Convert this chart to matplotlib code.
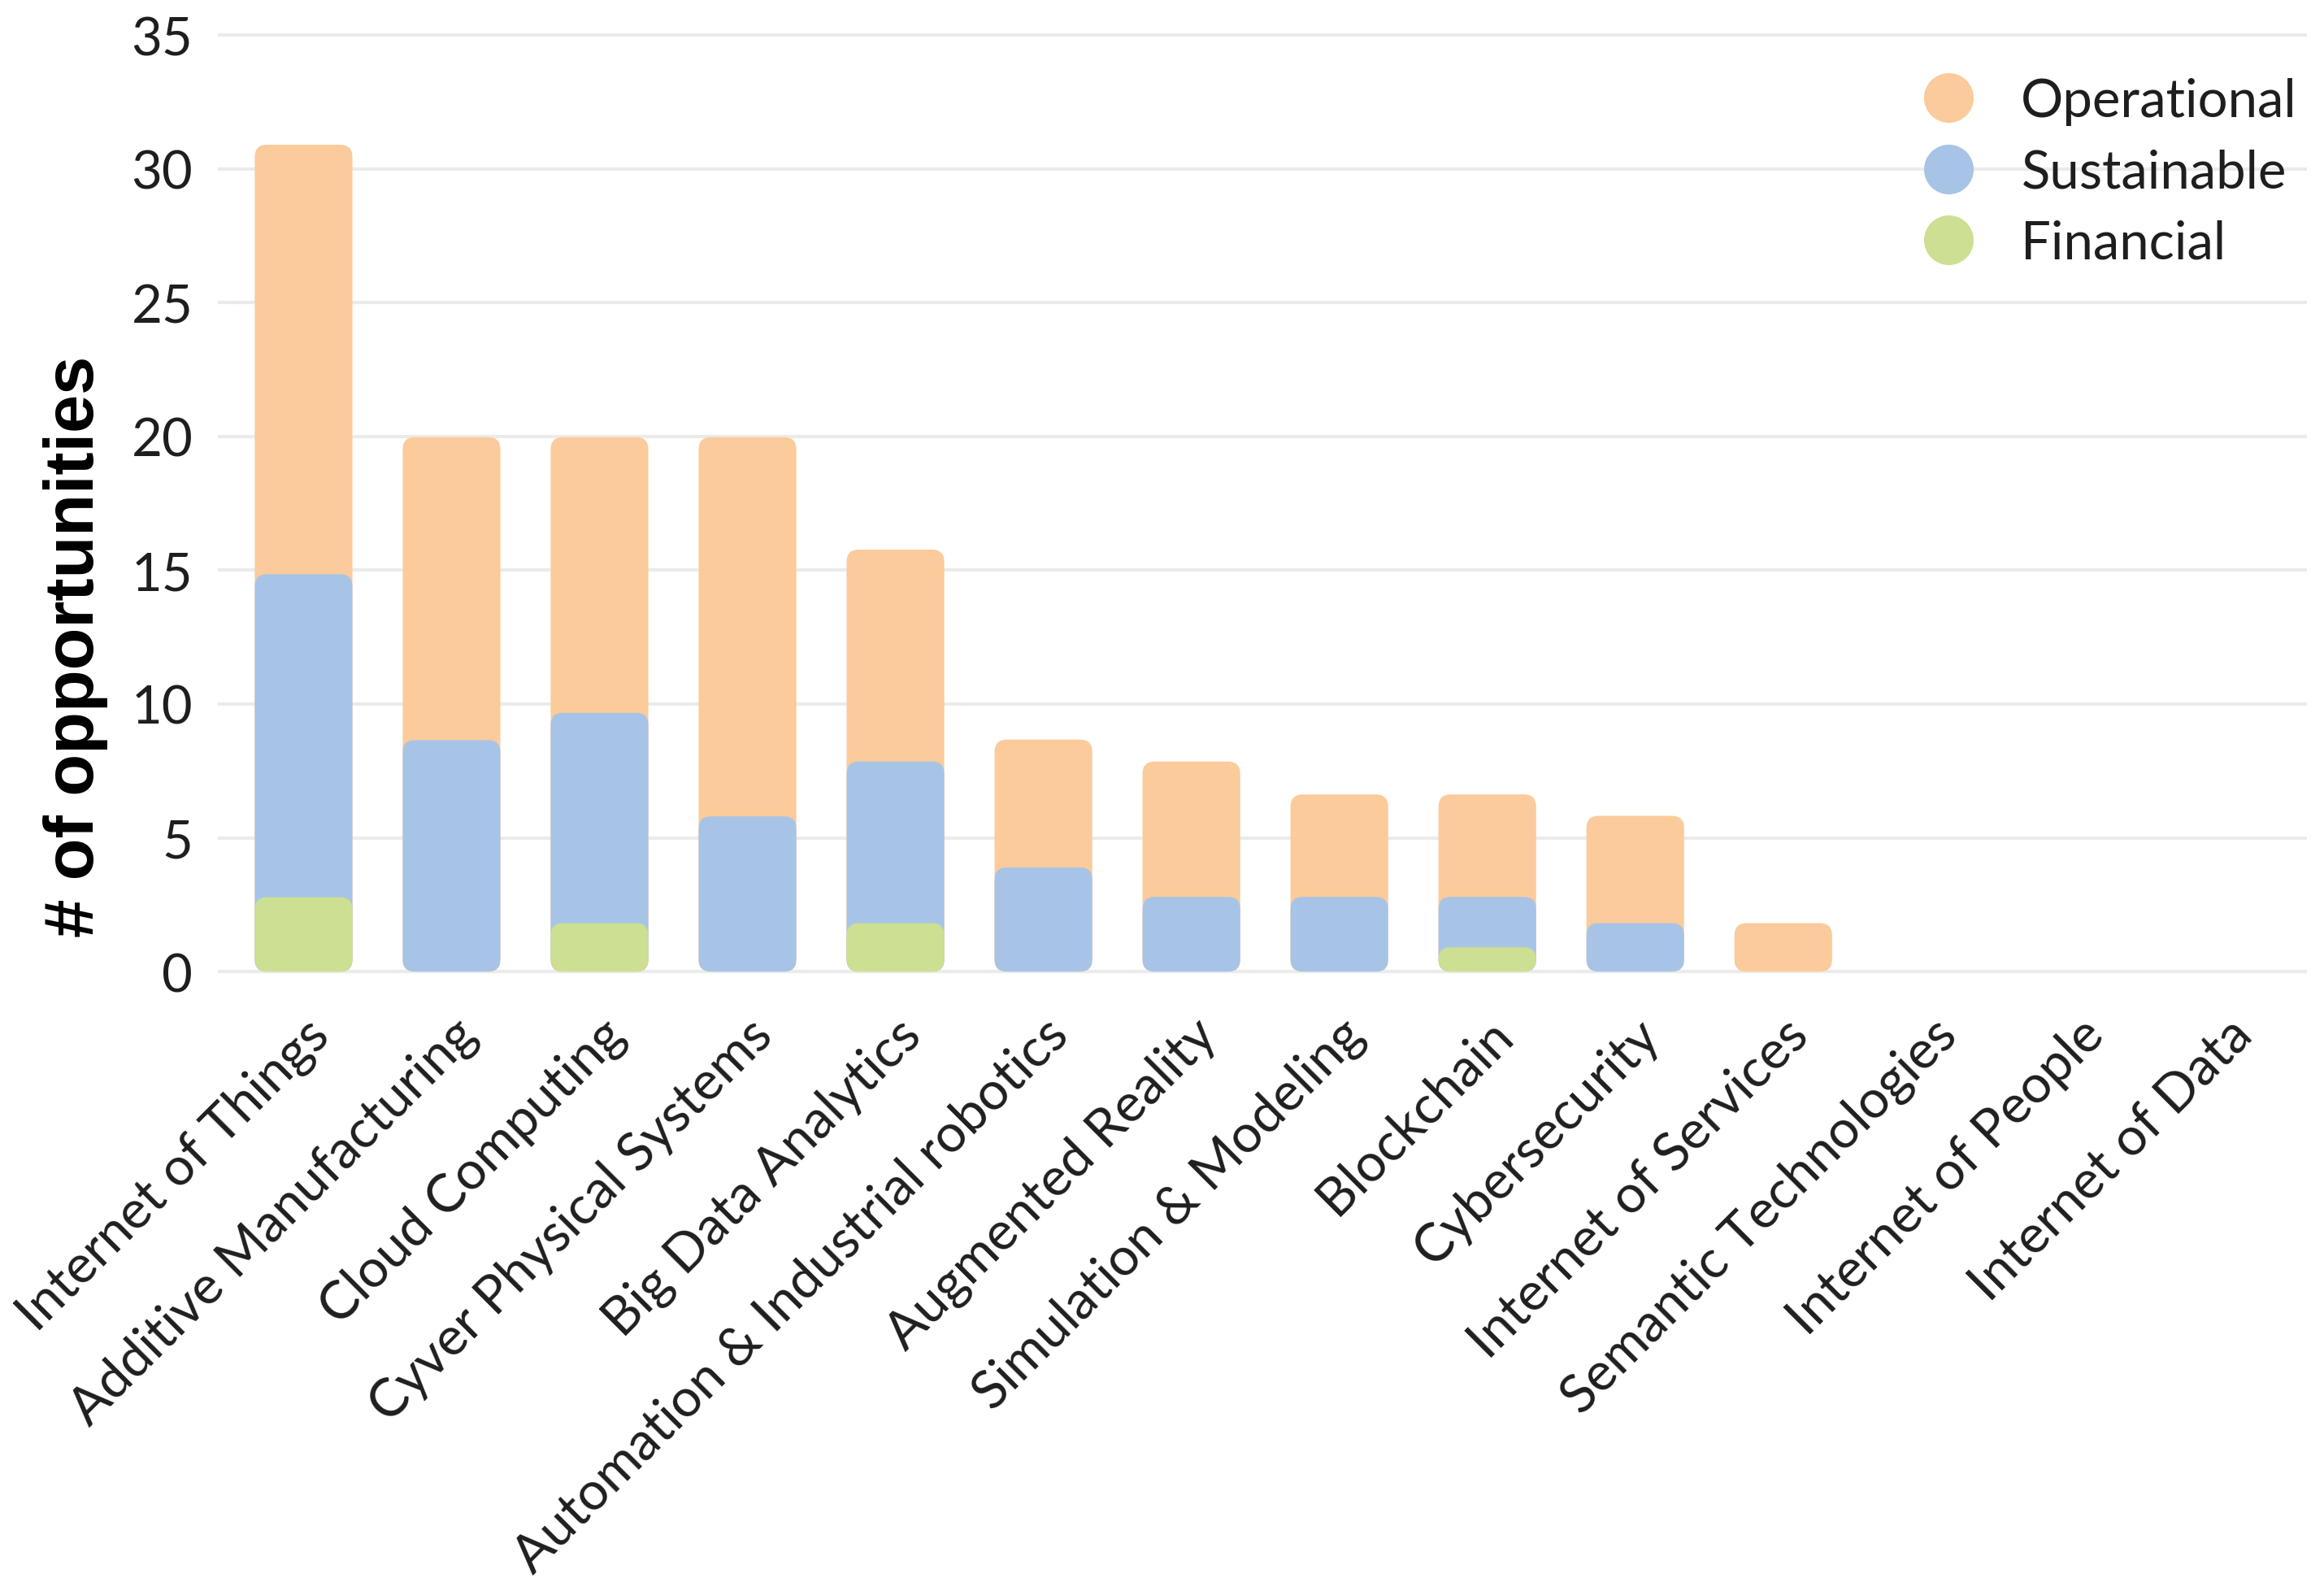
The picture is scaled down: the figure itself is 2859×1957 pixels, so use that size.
import numpy as np
import matplotlib
matplotlib.use("Agg")
import matplotlib.pyplot as plt
from matplotlib.patches import FancyBboxPatch
from matplotlib.lines import Line2D

# Данные
categories = [
    "Internet of Things", "Additive Manufacturing", "Cloud Computing",
    "Cyver Physical Systems", "Big Data Analytics", "Automation & Industrial robotics",
    "Augmented Reality", "Simulation & Modeling", "Blockchain", "Cybersecurity",
    "Internet of Services", "Semantic Technologies", "Internet of People", "Internet of Data",
]
financial = [2.78, 0, 1.81, 0, 1.81, 0, 0, 0, 0.91, 0, 0, 0, 0, 0]
sustainable = [12.07, 8.65, 7.86, 5.80, 6.04, 3.89, 2.79, 2.79, 1.88, 1.81, 0, 0, 0, 0]
operational = [16.05, 11.32, 10.30, 14.17, 7.92, 4.78, 5.06, 3.83, 3.83, 4.01, 1.81, 0, 0, 0]
y_ticks = [0, 5, 10, 15, 20, 25, 30, 35]

series_names = ["Operational", "Sustainable", "Financial"]
colors = {"Operational": "#FBCB9B", "Sustainable": "#A7C4E7", "Financial": "#CCDF92"}

tick_font = "Lato"
tick_size = 47
text_color = "#1E1E1E"

fig = plt.figure(figsize=(28.59, 19.58), dpi=100)
ax = fig.add_axes([0.0937, 0.3866, 0.899, 0.5934])

x = np.arange(len(categories))
width = 0.66

# верхние границы каждого слоя (слои рисуются от нуля и перекрываются)
fin_top = np.array(financial)
sus_top = fin_top + np.array(sustainable)
op_top = sus_top + np.array(operational)

ax.set_xlim(-0.58, len(categories) - 1 + 0.54)
ax.set_ylim(-0.15, 35.15)

# соотношение масштабов осей для скругления углов
fig.canvas.draw()
px_x = ax.transData.transform((1, 0))[0] - ax.transData.transform((0, 0))[0]
px_y = ax.transData.transform((0, 1))[1] - ax.transData.transform((0, 0))[1]
aspect = px_x / px_y
radius = 15 / px_x

for name, tops in [("Operational", op_top), ("Sustainable", sus_top), ("Financial", fin_top)]:
    bars = ax.bar(x, tops, width=width, color=colors[name])
    for b in bars:
        b.set_visible(False)
        h = b.get_height()
        if h <= 0:
            continue
        patch = FancyBboxPatch((b.get_x(), b.get_y()), b.get_width(), h,
                               boxstyle=f"round,pad=0,rounding_size={radius}",
                               mutation_aspect=aspect, facecolor=colors[name],
                               edgecolor="none", zorder=3)
        ax.add_patch(patch)

# оформление
ax.set_yticks(y_ticks)
ax.set_yticklabels([str(t) for t in y_ticks], fontsize=tick_size, family=tick_font,
                   color=text_color)
ax.set_xticks(x)
ax.set_xticklabels(categories, rotation=45, ha="right", rotation_mode="anchor",
                   fontsize=tick_size, family=tick_font, color=text_color)
ax.tick_params(axis="both", length=0)
ax.tick_params(axis="y", pad=22)
ax.tick_params(axis="x", pad=30)
ax.grid(axis="y", color="#EBEBEB", linewidth=3)
ax.set_axisbelow(True)
for s in ax.spines.values():
    s.set_visible(False)

ax.set_ylabel("# of opportunities", fontsize=61, fontweight="bold", family="Liberation Sans")
ax.yaxis.set_label_coords(-0.0525, 0.349)

handles = [Line2D([], [], marker="o", linestyle="none", markersize=44,
                  markerfacecolor=colors[n], markeredgecolor="none") for n in series_names]
ax.legend(handles, series_names, loc="upper left", bbox_to_anchor=(0.795, 0.981),
          bbox_transform=fig.transFigure, frameon=False, labelspacing=0.435,
          handletextpad=0.37, labelcolor=text_color,
          prop={"family": tick_font, "size": tick_size})

fig.savefig("out.png", dpi=100, facecolor="white")
